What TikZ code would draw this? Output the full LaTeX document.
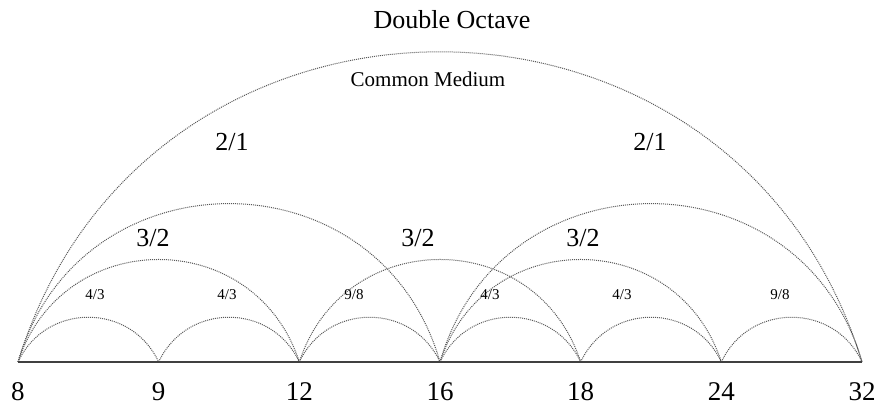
\documentclass[tikz,border=0pt]{standalone}
\usepackage{fontspec}
\setmainfont{Liberation Serif}
\usetikzlibrary{positioning}
\tikzset{
  iv/.style={densely dotted,line width=1pt,black!65},
  tengely/.style={line width=2.2pt,black!75},
  kis/.style={out=65,in=115,looseness=1.2},
  kozep/.style={out=72,in=108,looseness=1.31},
  nagy/.style={out=74,in=106,looseness=1.335},
  egesz/.style={out=73,in=107,looseness=1.314},
  szam/.style={font=\fontsize{27}{27}\selectfont,inner sep=0pt},
  arany/.style={font=\fontsize{26}{26}\selectfont,inner sep=0pt},
  kisarany/.style={font=\fontsize{15}{15}\selectfont,inner sep=0pt},
  cim/.style={font=\fontsize{26}{26}\selectfont,inner sep=0pt},
  alcim/.style={font=\fontsize{21}{21}\selectfont,inner sep=0pt},
}

\begin{document}
\begin{tikzpicture}[x=1pt,y=1pt]
  \useasboundingbox (0,0) rectangle (876,407);
  \foreach \n/\i in {8/0,9/1,12/2,16/3,18/4,24/5,32/6}{
    \coordinate (p\n) at (18+140.67*\i,45);
    \node[szam] (sz\n) at (18+140.67*\i,15) {\n};
  }
  % ivek
  \foreach \a/\b in {8/9,9/12,12/16,16/18,18/24,24/32}
    \draw[iv] (p\a) to[kis] (p\b);
  \foreach \a/\b in {8/12,12/18,16/24}
    \draw[iv] (p\a) to[kozep] (p\b);
  \draw[iv] (p8) to[nagy] (p16);
  \draw[iv] (p16) to[nagy] (p32);
  \draw[iv] (p8) to[egesz] (p32);
  \draw[tengely] (p8) -- (p32);
  % feliratok
  \node[cim] (cim) at (452,387) {Double Octave};
  \node[alcim] (kozeg) at (428,328) {Common Medium};
  \node[arany] (o1) at (232,265) {2/1};
  \node[arany] (o2) at (650,265) {2/1};
  \node[arany] (q1) at (153,169) {3/2};
  \node[arany] (q2) at (418,169) {3/2};
  \node[arany] (q3) at (583,169) {3/2};
  \node[kisarany] (k1) at (95,112) {4/3};
  \node[kisarany] (k2) at (227,112) {4/3};
  \node[kisarany] (k3) at (354,112) {9/8};
  \node[kisarany] (k4) at (490,112) {4/3};
  \node[kisarany] (k5) at (622,112) {4/3};
  \node[kisarany] (k6) at (780,112) {9/8};
\end{tikzpicture}
\end{document}
